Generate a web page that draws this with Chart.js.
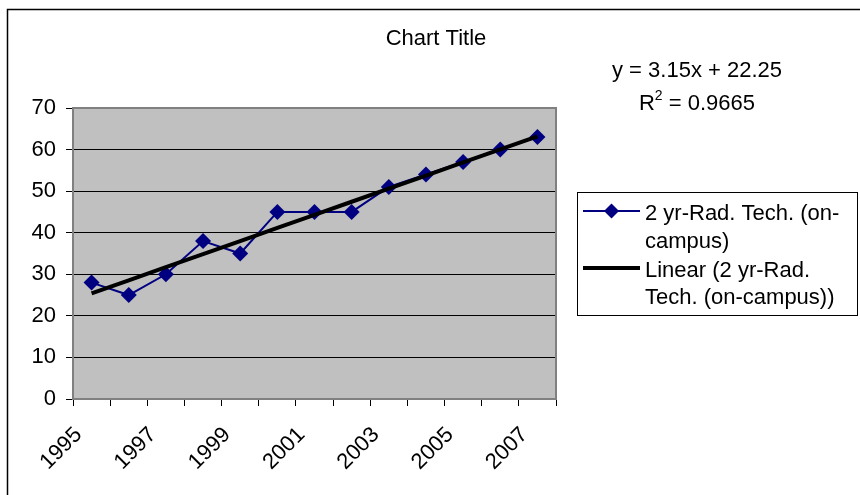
<!DOCTYPE html>
<html>
<head>
<meta charset="utf-8">
<script src="https://cdn.jsdelivr.net/npm/chart.js@4/dist/chart.umd.min.js"></script>
<style>
html,body{margin:0;padding:0;background:#fff;}
#wrap{width:860px;height:495px;position:relative;}
</style>
</head>
<body>
<div id="wrap"><canvas id="c" width="860" height="495"></canvas></div>
<script>
const years = ['1995','1996','1997','1998','1999','2000','2001','2002','2003','2004','2005','2006','2007'];
const radTech = [28, 25, 30, 38, 35, 45, 45, 45, 51, 54, 57, 60, 63];
const trendValues = [25.4, 28.55, 31.7, 34.85, 38.0, 41.15, 44.3, 47.45, 50.6, 53.75, 56.9, 60.05, 63.2];
const yTicks = [0, 10, 20, 30, 40, 50, 60, 70];
const titleText = 'Chart Title';
const equationText = 'y = 3.15x + 22.25';
const r2Value = '0.9665';
const seriesName = '2 yr-Rad. Tech. (on-campus)';
const legendLines1 = ['2 yr-Rad. Tech. (on-', 'campus)'];
const legendLines2 = ['Linear (2 yr-Rad.', 'Tech. (on-campus))'];

const FONT = "'Liberation Sans', Arial, sans-serif";

const decor = {
  id: 'decor',
  beforeDraw(chart) {
    const ctx = chart.ctx, a = chart.chartArea;
    ctx.save();
    ctx.fillStyle = '#fff';
    ctx.fillRect(0, 0, chart.width, chart.height);
    ctx.fillStyle = '#C0C0C0';
    ctx.fillRect(a.left, a.top, a.right - a.left, a.bottom - a.top);
    ctx.restore();
  },
  afterDraw(chart) {
    const ctx = chart.ctx, a = chart.chartArea;
    ctx.save();
    ctx.strokeStyle = '#808080';
    ctx.lineWidth = 2;
    ctx.beginPath();
    ctx.moveTo(a.left, a.top); ctx.lineTo(a.right, a.top); ctx.lineTo(a.right, a.bottom);
    ctx.stroke();
    ctx.strokeStyle = '#000';
    ctx.lineWidth = 1.5;
    ctx.beginPath();
    ctx.moveTo(7.5, 495); ctx.lineTo(7.5, 9.5); ctx.lineTo(860, 9.5);
    ctx.stroke();
    ctx.fillStyle = '#000';
    ctx.font = '22px ' + FONT;
    ctx.textAlign = 'center';
    ctx.textBaseline = 'alphabetic';
    ctx.fillText(titleText, 436, 45);
    ctx.fillText(equationText, 697, 77);
    ctx.textAlign = 'left';
    const w1 = ctx.measureText('R').width;
    ctx.font = '14px ' + FONT;
    const w2 = ctx.measureText('2').width;
    ctx.font = '22px ' + FONT;
    const rest = ' = ' + r2Value;
    const w3 = ctx.measureText(rest).width;
    let x0 = 697 - (w1 + w2 + w3) / 2;
    ctx.fillText('R', x0, 110);
    ctx.font = '14px ' + FONT;
    ctx.fillText('2', x0 + w1, 100);
    ctx.font = '22px ' + FONT;
    ctx.fillText(rest, x0 + w1 + w2, 110);
    ctx.strokeStyle = '#000';
    ctx.lineWidth = 1;
    ctx.strokeRect(577.5, 192.5, 280, 123);
    ctx.strokeStyle = '#000080';
    ctx.lineWidth = 2;
    ctx.beginPath(); ctx.moveTo(583, 211); ctx.lineTo(640, 211); ctx.stroke();
    ctx.fillStyle = '#000080';
    ctx.beginPath();
    ctx.moveTo(611.5, 203.5); ctx.lineTo(619, 211); ctx.lineTo(611.5, 218.5); ctx.lineTo(604, 211);
    ctx.closePath(); ctx.fill();
    ctx.strokeStyle = '#000';
    ctx.lineWidth = 4;
    ctx.beginPath(); ctx.moveTo(583, 268); ctx.lineTo(640, 268); ctx.stroke();
    ctx.fillStyle = '#000';
    ctx.font = '22px ' + FONT;
    ctx.fillText(legendLines1[0], 645, 220);
    ctx.fillText(legendLines1[1], 645, 248);
    ctx.fillText(legendLines2[0], 645, 277);
    ctx.fillText(legendLines2[1], 645, 304);
    ctx.restore();
  }
};

new Chart(document.getElementById('c'), {
  type: 'line',
  data: {
    labels: years,
    datasets: [
      {
        label: seriesName,
        data: radTech,
        borderColor: '#000080',
        backgroundColor: '#000080',
        borderWidth: 2,
        pointStyle: 'rectRot',
        pointRadius: 8,
        pointHoverRadius: 8,
        pointBorderWidth: 0,
        tension: 0,
        order: 1
      },
      {
        label: 'Linear (' + seriesName + ')',
        data: trendValues,
        borderColor: '#000',
        borderWidth: 4,
        pointRadius: 0,
        tension: 0,
        order: 0
      }
    ]
  },
  options: {
    responsive: false,
    animation: false,
    layout: { padding: { left: 0, right: 304, top: 108, bottom: 0 } },
    plugins: { legend: { display: false }, title: { display: false }, tooltip: { enabled: false } },
    scales: {
      x: {
        type: 'category',
        offset: true,
        afterFit(s) { s.height = 96; },
        border: { display: true, color: '#808080', width: 2 },
        grid: { display: true, drawOnChartArea: false, drawTicks: true, tickLength: 7, offset: true, color: '#000', lineWidth: 1 },
        ticks: {
          autoSkip: false,
          minRotation: 45,
          maxRotation: 45,
          padding: 16,
          labelOffset: -13,
          color: '#000',
          font: { family: FONT, size: 22 },
          callback(v, i) { return i % 2 === 0 ? years[i] : ''; }
        }
      },
      y: {
        min: 0,
        max: 70,
        afterFit(s) { s.width = 73; },
        afterBuildTicks(s) { s.ticks = yTicks.map(v => ({ value: v })); },
        border: { display: true, color: '#808080', width: 2 },
        grid: {
          color: (c) => (c.tick && (c.tick.value === 70 || c.tick.value === 0)) ? '#808080' : '#000',
          lineWidth: 1,
          tickLength: 7,
          tickColor: '#000'
        },
        ticks: {
          padding: 10,
          color: '#000',
          font: { family: FONT, size: 22 }
        }
      }
    }
  },
  plugins: [decor]
});
</script>
</body>
</html>
